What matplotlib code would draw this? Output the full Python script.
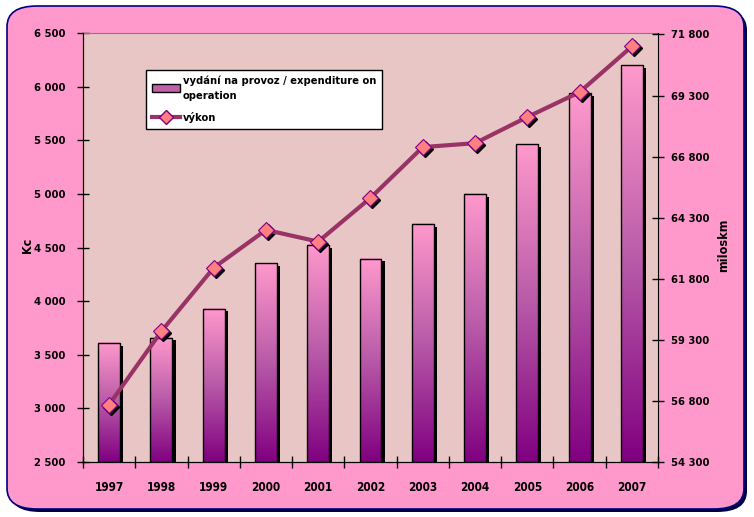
import numpy as np
import matplotlib
matplotlib.use("Agg")
import matplotlib.pyplot as plt
import matplotlib.transforms as mtransforms
from matplotlib.patches import FancyBboxPatch, Rectangle
from matplotlib.colors import LinearSegmentedColormap
from matplotlib.lines import Line2D

plt.rcParams['font.family'] = ['DejaVu Sans']
plt.rcParams['font.stretch'] = 'condensed'

# Data
years = ['1997', '1998', '1999', '2000', '2001', '2002', '2003', '2004', '2005', '2006', '2007']
expenditure = [3610, 3660, 3930, 4355, 4525, 4395, 4720, 5000, 5465, 5940, 6200]
vykon = [56650, 59650, 62250, 63800, 63320, 65110, 67190, 67350, 68420, 69440, 71310]
left_ticks = [2500, 3000, 3500, 4000, 4500, 5000, 5500, 6000, 6500]
right_ticks = [54300, 56800, 59300, 61800, 64300, 66800, 69300, 71800]

fig = plt.figure(figsize=(7.54, 5.17), dpi=100)
fig.patch.set_facecolor('white')

# rounded pink frame with shadow
shadow = FancyBboxPatch((10 / 754, 5 / 517), 737 / 754, 503 / 517,
                        boxstyle="round,pad=0,rounding_size=0.04",
                        transform=fig.transFigure, facecolor='#000040',
                        edgecolor='none', zorder=0)
frame = FancyBboxPatch((7 / 754, 8 / 517), 737 / 754, 503 / 517,
                       boxstyle="round,pad=0,rounding_size=0.04",
                       transform=fig.transFigure, facecolor='#ff99cc',
                       edgecolor='#000080', linewidth=1.2, zorder=0)
fig.patches.append(shadow)
fig.patches.append(frame)

ax = fig.add_axes([83 / 754, 1 - 462 / 517, 575 / 754, 429 / 517])
ax.set_facecolor('#e9c6c6')
ax.set_zorder(1)

x = np.arange(len(years))
bar_w = 0.42
cmap = LinearSegmentedColormap.from_list('bar', ['#800080', '#b85aa8', '#ff99cc'])
grad = np.linspace(0, 1, 256).reshape(-1, 1)

for i, val in enumerate(expenditure):
    x0 = x[i] - bar_w / 2
    # shadow
    ax.add_patch(Rectangle((x0 + 0.06, 2500), bar_w, val - 2500 - 25,
                           facecolor='black', edgecolor='none', zorder=2))
    ax.imshow(grad, cmap=cmap, origin='lower', aspect='auto',
              extent=[x0, x0 + bar_w, 2500, val], zorder=3)
    ax.add_patch(Rectangle((x0, 2500), bar_w, val - 2500, facecolor='none',
                           edgecolor='black', linewidth=1.0, zorder=4))

ax.set_xlim(-0.5, len(years) - 0.5)
ax.set_ylim(2500, 6500)
ax.set_yticks(left_ticks)
ax.set_yticklabels([f"{t:,}".replace(',', ' ') for t in left_ticks],
                   fontsize=8, fontweight='bold')
ax.set_xticks(np.arange(len(years) + 1) - 0.5)
ax.set_xticklabels([])
ax.set_xticks(x, minor=True)
ax.set_xticklabels(years, minor=True, fontsize=8.5, fontweight='bold')
ax.tick_params(axis='x', which='major', direction='inout', length=9, width=1)
ax.tick_params(axis='x', which='minor', length=0, pad=14)
ax.tick_params(axis='y', direction='inout', length=9, width=1, pad=8)
ax.spines['top'].set_color('#808080')
ax.spines['right'].set_visible(False)
fig.text(27 / 754, 1 - 245 / 517, 'Kc', rotation=90, ha='center', va='center',
         fontsize=9, fontweight='bold')

ax2 = ax.twinx()
ax2.set_ylim(54300, 71800 + 60)
ax2.set_yticks(right_ticks)
ax2.set_yticklabels([f"{t:,}".replace(',', ' ') for t in right_ticks],
                    fontsize=8, fontweight='bold')
ax2.tick_params(axis='y', direction='inout', length=9, width=1, pad=5)
ax2.spines['top'].set_visible(False)
fig.text(724 / 754, 1 - 245 / 517, 'miloskm', rotation=90, ha='center', va='center',
         fontsize=9, fontweight='bold')

# marker shadows
shadow_tr = mtransforms.offset_copy(ax2.transData, fig=fig, x=2, y=-2, units='dots')
ax2.plot(x, vykon, linestyle='none', marker='D', markersize=8,
         color='black', transform=shadow_tr, zorder=3)
ax2.plot(x, vykon, color='#993366', linewidth=3, marker='D', markersize=8,
         markerfacecolor='#ff8080', markeredgecolor='#800080',
         markeredgewidth=0.8, zorder=4)

handles = [Rectangle((0, 0), 1, 1, facecolor='#c060a8', edgecolor='black'),
           Line2D([], [], color='#993366', linewidth=3, marker='D', markersize=7,
                  markerfacecolor='#ff8080', markeredgecolor='#800080')]
leg = ax2.legend(handles, ['vydání na provoz / expenditure on\noperation', 'výkon'],
                 loc='upper left', bbox_to_anchor=(63 / 575, 1 - 37 / 429),
                 fontsize=8, frameon=True, fancybox=False, framealpha=1,
                 borderpad=0.5, handlelength=2.6, handletextpad=0.2,
                 labelspacing=1.0, borderaxespad=0)
leg.get_frame().set_edgecolor('black')
leg.get_frame().set_facecolor('white')
leg.get_frame().set_linewidth(1)
for t in leg.get_texts():
    t.set_fontweight('bold')
    t.set_linespacing(1.6)

fig.savefig('out.png', dpi=100, facecolor=fig.get_facecolor())
